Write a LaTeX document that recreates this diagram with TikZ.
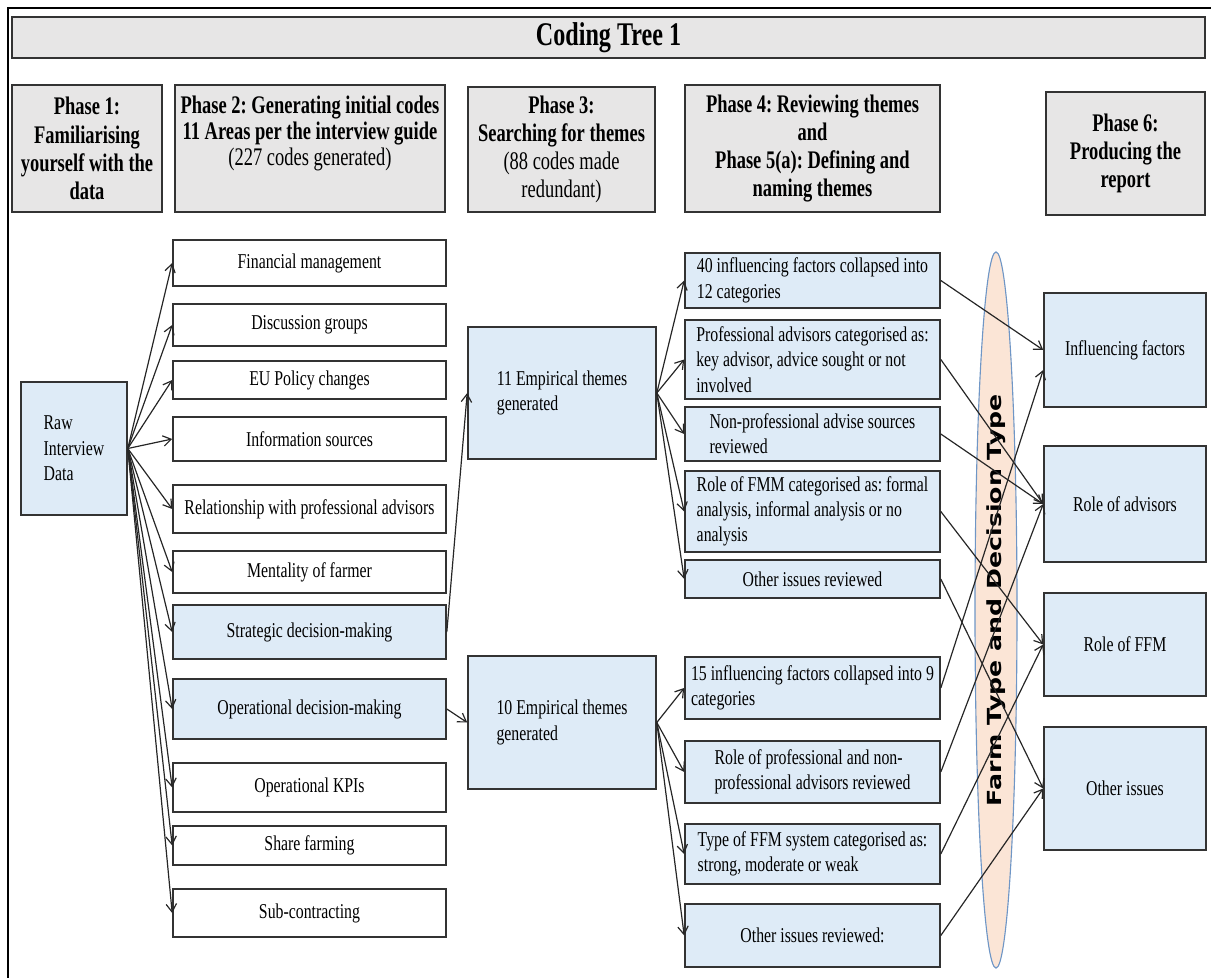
\documentclass[tikz,border=0pt]{standalone}
\usepackage{fontspec}
\setmainfont{Liberation Serif}[FakeStretch=0.75]
\newfontfamily\hdrfont{Liberation Serif}[FakeStretch=0.73]
\newfontfamily\bandfont{DejaVu Sans}[FakeStretch=1.3]
\usepackage{tikz}
\usetikzlibrary{arrows.meta,positioning,shapes.geometric}
\definecolor{hdrgray}{HTML}{E7E6E6}
\definecolor{paleblue}{HTML}{DEEBF7}
\definecolor{peach}{HTML}{FBE5D6}
\definecolor{bandedge}{HTML}{6F96C6}
\frenchspacing

\begin{document}
\begin{tikzpicture}[
  x=0.025cm, y=-0.025cm,
  box/.style={rectangle,draw=black!80,line width=1.1pt,inner sep=2pt,
    font=\fontsize{15}{18}\selectfont},
  code/.style={box,fill=white,align=center,minimum width=68.25mm},
  theme/.style={box,fill=paleblue,align=left},
  hdr/.style={box,fill=hdrgray,align=center,
    font=\hdrfont\bfseries\fontsize{18}{20}\selectfont},
  band/.style={ellipse,draw=bandedge,fill=peach,line width=0.8pt,inner sep=0pt,
    minimum width=179mm,minimum height=10.5mm,rotate=90,
    font=\bandfont\bfseries\fontsize{13.8}{16}\selectfont},
  >={Straight Barb[length=2mm,width=2.6mm]},
  link/.style={->,line width=0.85pt,black!85}
]
  \useasboundingbox (0,0) rectangle (1211,978);
  \draw[line width=2pt] (8,978) -- (8,8) -- (1211,8);

  \node[hdr,minimum width=298.25mm,minimum height=10.25mm,
    font=\hdrfont\bfseries\fontsize{23.5}{26}\selectfont] (title) at (608.5,37.5) {Coding Tree 1};
  \node[hdr,minimum width=37.5mm,minimum height=31.75mm] (p1) at (87,148.5)
    {Phase 1:\\Familiarising\\yourself with the\\data};
  \node[hdr,minimum width=67.5mm,minimum height=31.75mm,
    font=\hdrfont\bfseries\fontsize{18}{18.5}\selectfont] (p2) at (310,148.5)
    {Phase 2: Generating initial codes\\11 Areas per the interview guide\\{\mdseries(227 codes generated)}\\[6.5pt]\mbox{}};
  \node[hdr,minimum width=46.75mm,minimum height=31.25mm] (p3) at (561.5,149.5)
    {Phase 3:\\Searching for themes\\{\mdseries(88 codes made}\\{\mdseries redundant)}};
  \node[hdr,minimum width=63.75mm,minimum height=31.75mm] (p4) at (812.5,148.5)
    {Phase 4: Reviewing themes\\and\\Phase 5(a): Defining and\\naming themes};
  \node[hdr,minimum width=39.75mm,minimum height=30.75mm] (p6) at (1125.5,153.5)
    {Phase 6:\\Producing the\\report};

  \node[theme,minimum width=26.5mm,minimum height=33.25mm] (raw) at (74,448.5)
    {Raw\\Interview\\Data};

  \node[code,minimum height=11.5mm] (fin) at (309.5,263) {Financial management};
  \node[code,minimum height=10.5mm] (disc) at (309.5,325) {Discussion groups};
  \node[code,minimum height=9.5mm] (eu) at (309.5,380) {EU Policy changes};
  \node[code,minimum height=11mm] (info) at (309.5,439) {Information sources};
  \node[code,minimum height=12mm] (rel) at (309.5,509) {Relationship with professional advisors};
  \node[code,minimum height=10.5mm] (ment) at (309.5,572) {Mentality of farmer};
  \node[code,fill=paleblue,minimum height=13.5mm] (strat) at (309.5,632) {Strategic decision-making};
  \node[code,fill=paleblue,minimum height=15mm] (oper) at (309.5,709) {Operational decision-making};
  \node[code,minimum height=12.25mm] (kpi) at (309.5,787.5) {Operational KPIs};
  \node[code,minimum height=9.75mm] (share) at (309.5,845.5) {Share farming};
  \node[code,minimum height=12mm] (sub) at (309.5,913) {Sub-contracting};

  \node[theme,minimum width=47mm,minimum height=33mm] (emp11) at (562,393)
    {11 Empirical themes\\generated};
  \node[theme,minimum width=47mm,minimum height=33.25mm] (emp10) at (562,722.5)
    {10 Empirical themes\\generated};

  \node[theme,minimum width=63.75mm,minimum height=13.75mm] (a1) at (812.5,280.5)
    {40 influencing factors collapsed into\\12 categories};
  \node[theme,minimum width=63.75mm,minimum height=19.75mm] (a2) at (812.5,359.5)
    {Professional advisors categorised as:\\key advisor, advice sought or not\\involved};
  \node[theme,minimum width=63.75mm,minimum height=13.5mm] (a3) at (812.5,434)
    {Non-professional advise sources\\reviewed};
  \node[theme,minimum width=63.75mm,minimum height=20.25mm] (a4) at (812.5,511.5)
    {Role of FMM categorised as: formal\\analysis, informal analysis or no\\analysis};
  \node[theme,minimum width=63.75mm,minimum height=9.5mm] (a5) at (812.5,579)
    {Other issues reviewed};
  \node[theme,minimum width=63.75mm,minimum height=15.5mm] (b1) at (812.5,688)
    {15 influencing factors collapsed into 9\\categories};
  \node[theme,minimum width=63.75mm,minimum height=15.5mm] (b2) at (812.5,772)
    {Role of professional and non-\\professional advisors reviewed};
  \node[theme,minimum width=63.75mm,minimum height=15mm] (b3) at (812.5,854)
    {Type of FFM system categorised as:\\strong, moderate or weak};
  \node[theme,minimum width=63.75mm,minimum height=15.75mm] (b4) at (812.5,935.5)
    {Other issues reviewed:};

  \node[theme,minimum width=40.5mm,minimum height=28.5mm] (infl) at (1125,350) {Influencing factors};
  \node[theme,minimum width=40.5mm,minimum height=29mm] (roleadv) at (1125,504) {Role of advisors};
  \node[theme,minimum width=40.5mm,minimum height=25.75mm] (roleffm) at (1125,644.5) {Role of FFM};
  \node[theme,minimum width=40.5mm,minimum height=30.75mm] (other) at (1125,788.5) {Other issues};

  \node[band] (farm) at (996,610) {\hspace*{14pt}Farm Type and Decision Type};

  \foreach \b in {fin,disc,eu,info,rel,ment,strat,oper,kpi,share,sub}
    \draw[link] (raw.east) -- (\b.west);
  \draw[link] (strat.east) -- (emp11.west);
  \draw[link] (oper.east) -- (emp10.west);
  \foreach \b in {a1,a2,a3,a4,a5}
    \draw[link] (emp11.east) -- (\b.west);
  \foreach \b in {b1,b2,b3,b4}
    \draw[link] (emp10.east) -- (\b.west);
  \foreach \a/\b in {a1/infl,a2/roleadv,a3/roleadv,a4/roleffm,a5/other,b2/roleadv,b3/roleffm,b4/other}
    \draw[link] (\a.east) -- (\b.west);
  \draw[link] (b1.east) -- ([yshift=-5mm]infl.west);
\end{tikzpicture}
\end{document}
